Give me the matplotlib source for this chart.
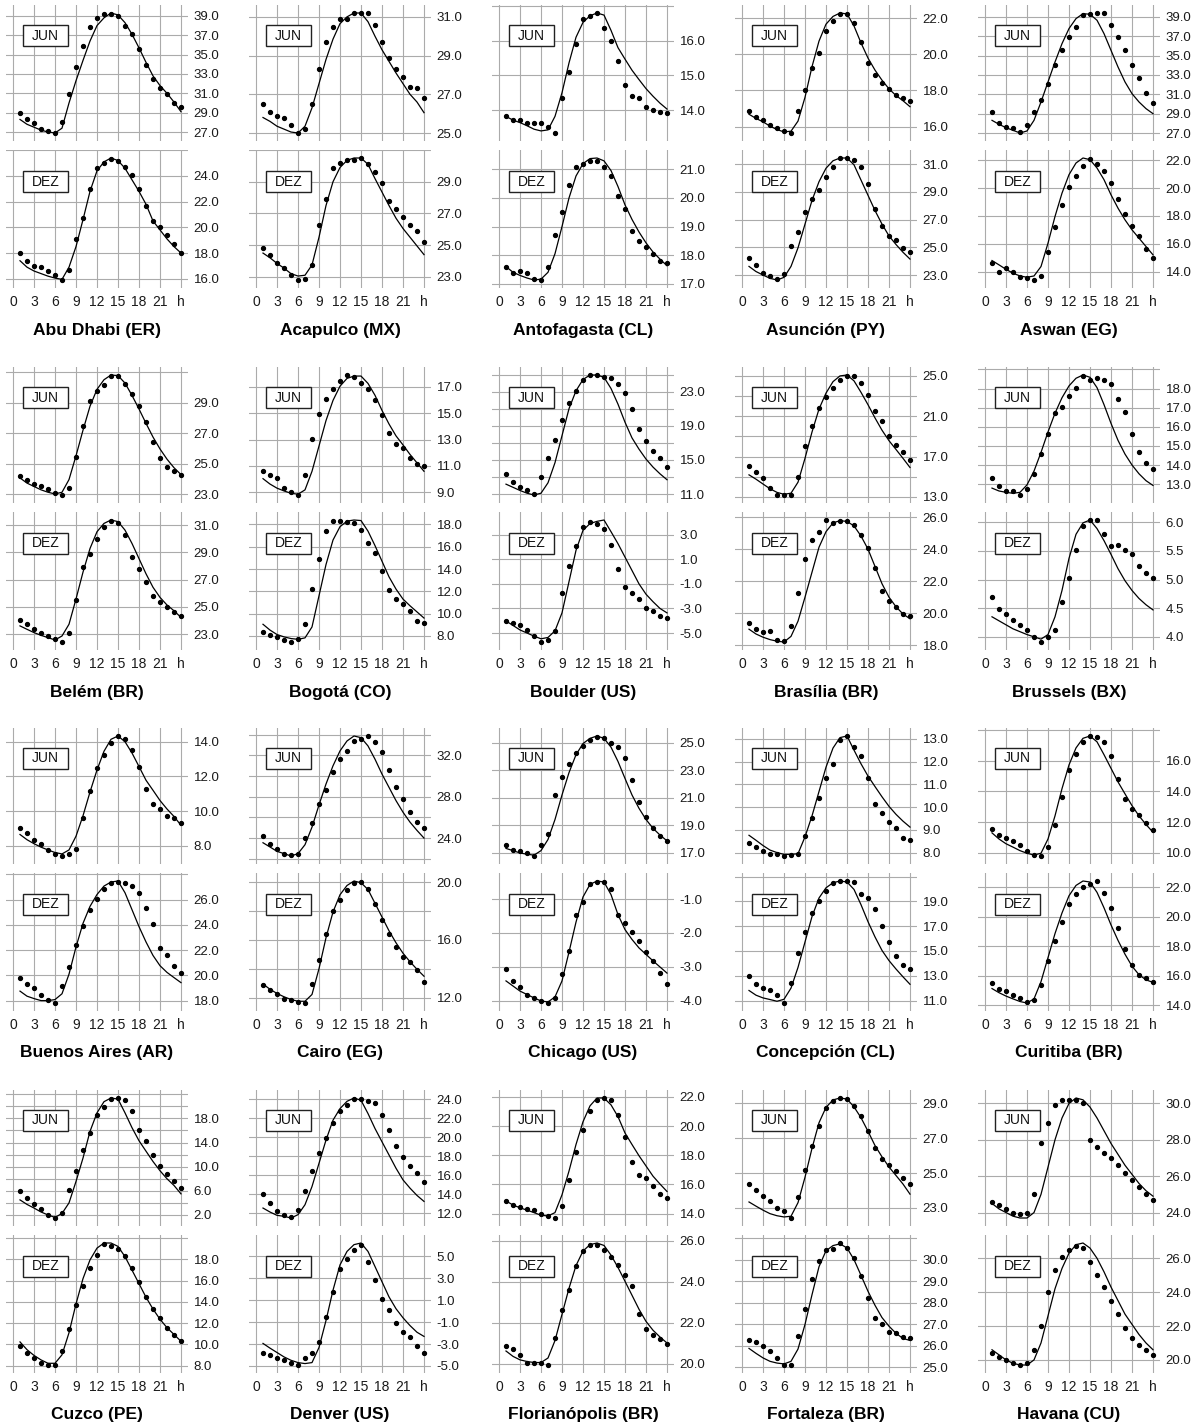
import matplotlib
matplotlib.use("Agg")
import matplotlib.pyplot as plt
from matplotlib.patches import Rectangle

# --- hours and axis labels ------------------------------------------

hours = list(range(1, 25))
x_ticks = [0, 3, 6, 9, 12, 15, 18, 21, 24]
x_labels = ["0", "3", "6", "9", "12", "15", "18", "21", "h"]

# --- observed (dots) and fitted (line) hourly temperatures -----------

abu_jun_obs = [29.0, 28.3, 27.9, 27.3, 27.1, 26.9, 28.0, 30.9, 33.7, 35.9, 37.9, 38.8, 39.2, 39.2, 39.0, 38.0, 37.1, 35.6, 33.9, 32.5, 31.6, 30.9, 30.0, 29.6]
abu_jun_fit = [28.3, 27.8, 27.5, 27.2, 27.0, 26.9, 27.4, 30.0, 32.3, 34.4, 36.4, 38.0, 38.8, 39.3, 39.1, 38.3, 37.1, 35.7, 34.2, 32.8, 31.8, 31.0, 30.1, 29.1]
abu_dez_obs = [18.0, 17.4, 17.0, 16.9, 16.6, 16.3, 15.9, 16.7, 19.1, 20.7, 23.0, 24.6, 25.0, 25.3, 25.2, 24.7, 24.1, 23.0, 21.7, 20.5, 20.0, 19.4, 18.7, 18.0]
abu_dez_fit = [17.4, 16.9, 16.6, 16.4, 16.2, 16.05, 15.95, 16.9, 18.5, 20.6, 22.8, 24.4, 25.1, 25.4, 25.2, 24.6, 23.7, 22.8, 21.8, 20.5, 19.8, 19.1, 18.5, 18.0]

aca_jun_obs = [26.5, 26.1, 25.9, 25.8, 25.4, 25.0, 25.2, 26.5, 28.3, 29.7, 30.5, 30.9, 30.9, 31.2, 31.2, 31.2, 30.6, 29.7, 28.9, 28.3, 27.9, 27.4, 27.35, 26.8]
aca_jun_fit = [25.8, 25.6, 25.35, 25.2, 25.05, 25.0, 25.35, 26.3, 27.55, 28.8, 29.85, 30.65, 31.0, 31.2, 31.2, 30.75, 30.0, 29.3, 28.7, 28.1, 27.55, 27.0, 26.6, 26.05]
aca_dez_obs = [24.85, 24.4, 23.9, 23.55, 23.1, 22.8, 22.85, 23.75, 26.3, 27.9, 29.9, 30.2, 30.4, 30.35, 30.5, 30.1, 29.6, 28.95, 27.8, 27.25, 26.8, 26.3, 25.9, 25.2]
aca_dez_fit = [24.5, 24.2, 23.85, 23.55, 23.2, 23.05, 23.1, 23.75, 25.5, 27.5, 29.0, 29.9, 30.35, 30.5, 30.5, 30.1, 29.2, 28.35, 27.5, 26.7, 26.05, 25.5, 24.95, 24.4]

ant_jun_obs = [13.82, 13.71, 13.71, 13.64, 13.64, 13.64, 13.5, 13.34, 14.34, 15.1, 15.9, 16.62, 16.7, 16.8, 16.37, 16.0, 15.43, 14.72, 14.42, 14.34, 14.08, 14.0, 13.95, 13.93]
ant_jun_fit = [13.82, 13.71, 13.64, 13.55, 13.45, 13.4, 13.43, 13.82, 14.5, 15.36, 16.1, 16.53, 16.72, 16.8, 16.74, 16.3, 15.8, 15.47, 15.15, 14.88, 14.62, 14.4, 14.2, 14.03]
ant_dez_obs = [17.6, 17.39, 17.46, 17.39, 17.16, 17.13, 17.58, 18.72, 19.5, 20.46, 21.09, 21.2, 21.28, 21.3, 21.09, 20.77, 20.08, 19.63, 18.84, 18.5, 18.27, 18.05, 17.8, 17.71]
ant_dez_fit = [17.6, 17.4, 17.29, 17.2, 17.13, 17.16, 17.4, 18.05, 19.0, 20.0, 20.77, 21.2, 21.38, 21.4, 21.3, 20.96, 20.4, 19.76, 19.25, 18.81, 18.43, 18.11, 17.86, 17.63]

asu_jun_obs = [16.87, 16.53, 16.34, 16.11, 15.92, 15.74, 15.64, 16.87, 18.0, 19.23, 20.08, 21.3, 21.87, 22.25, 22.25, 21.77, 20.68, 19.5, 18.85, 18.42, 18.1, 17.77, 17.58, 17.43]
asu_jun_fit = [16.68, 16.45, 16.26, 16.02, 15.83, 15.7, 15.74, 16.3, 17.62, 19.32, 20.74, 21.68, 22.11, 22.3, 22.25, 21.58, 20.64, 19.8, 19.13, 18.57, 18.09, 17.72, 17.43, 17.1]
asu_dez_obs = [24.23, 23.74, 23.18, 22.93, 22.69, 23.08, 25.08, 26.11, 27.53, 28.51, 29.12, 30.1, 30.76, 31.44, 31.44, 31.32, 30.76, 29.53, 27.77, 26.5, 25.82, 25.52, 24.96, 24.64]
asu_dez_fit = [23.62, 23.25, 23.0, 22.76, 22.64, 22.83, 23.62, 24.96, 26.67, 28.38, 29.73, 30.7, 31.24, 31.44, 31.44, 30.95, 29.85, 28.75, 27.65, 26.67, 25.82, 25.2, 24.64, 24.15]

asw_jun_obs = [29.17, 28.03, 27.62, 27.52, 27.1, 27.79, 29.17, 30.38, 32.1, 34.0, 35.55, 36.93, 37.97, 39.17, 39.34, 39.41, 39.41, 38.14, 36.93, 35.62, 34.0, 32.72, 31.14, 30.1]
asw_jun_fit = [28.31, 27.9, 27.55, 27.28, 27.0, 27.21, 28.31, 30.21, 32.28, 34.34, 36.24, 37.8, 38.83, 39.34, 39.28, 38.66, 37.28, 35.55, 33.83, 32.28, 31.07, 30.21, 29.52, 29.0]
asw_dez_obs = [14.64, 14.0, 14.24, 14.0, 13.59, 13.51, 13.39, 13.68, 15.44, 17.19, 18.8, 20.08, 20.89, 21.62, 22.1, 21.76, 21.2, 20.37, 19.21, 18.15, 17.29, 16.57, 15.61, 14.96]
asw_dez_fit = [14.79, 14.48, 14.16, 13.88, 13.68, 13.59, 13.68, 14.36, 16.04, 17.96, 19.64, 20.97, 21.81, 22.17, 22.05, 21.45, 20.61, 19.52, 18.56, 17.72, 17.0, 16.4, 15.8, 15.2]

bel_jun_obs = [24.19, 23.97, 23.68, 23.52, 23.34, 23.07, 22.96, 23.41, 25.42, 27.48, 29.11, 29.78, 30.16, 30.79, 30.74, 30.23, 29.56, 28.78, 27.77, 26.43, 25.38, 24.79, 24.53, 24.3]
bel_jun_fit = [24.08, 23.74, 23.52, 23.3, 23.14, 23.03, 23.14, 23.97, 25.53, 27.21, 28.78, 29.89, 30.52, 30.83, 30.79, 30.3, 29.49, 28.6, 27.66, 26.76, 25.98, 25.31, 24.75, 24.3]
bel_dez_obs = [24.05, 23.73, 23.41, 23.07, 22.87, 22.67, 22.43, 23.07, 25.53, 27.92, 28.91, 30.01, 30.88, 31.3, 31.12, 30.26, 28.66, 27.75, 26.86, 25.83, 25.38, 24.97, 24.65, 24.3]
bel_dez_fit = [23.61, 23.36, 23.12, 22.92, 22.75, 22.58, 22.87, 23.73, 25.58, 27.55, 29.28, 30.51, 31.12, 31.37, 31.25, 30.63, 29.65, 28.54, 27.43, 26.44, 25.7, 25.14, 24.72, 24.23]

bog_jun_obs = [10.59, 10.28, 10.08, 9.31, 9.0, 8.79, 10.28, 13.03, 14.95, 16.1, 16.87, 17.46, 17.9, 17.72, 17.31, 16.87, 16.03, 14.9, 13.46, 12.69, 12.38, 11.62, 11.15, 10.97]
bog_jun_fit = [10.03, 9.62, 9.31, 9.1, 8.92, 8.85, 9.18, 10.59, 12.51, 14.44, 15.97, 17.05, 17.64, 17.82, 17.82, 17.26, 16.36, 15.21, 14.18, 13.28, 12.59, 11.87, 11.23, 10.59]
bog_dez_obs = [8.31, 8.12, 7.91, 7.6, 7.45, 7.76, 9.04, 12.19, 14.94, 17.39, 18.31, 18.31, 18.21, 18.09, 17.54, 16.38, 15.4, 13.81, 12.1, 11.27, 10.87, 10.26, 9.35, 9.13]
bog_dez_fit = [9.04, 8.52, 8.12, 7.91, 7.76, 7.69, 7.82, 8.8, 11.6, 14.4, 16.6, 17.8, 18.3, 18.4, 18.35, 17.4, 16.1, 14.7, 13.3, 12.2, 11.3, 10.7, 10.15, 9.6]

bou_jun_obs = [13.37, 12.47, 11.79, 11.42, 11.0, 13.0, 15.21, 17.32, 19.68, 21.63, 23.1, 24.42, 24.95, 24.95, 24.68, 24.58, 23.89, 22.84, 21.0, 18.63, 17.21, 16.0, 15.21, 14.16]
bou_jun_fit = [12.16, 11.79, 11.42, 11.1, 10.89, 11.1, 12.32, 14.68, 17.84, 21.0, 23.1, 24.42, 24.95, 24.95, 24.68, 23.37, 21.53, 19.42, 17.58, 16.26, 15.1, 14.16, 13.37, 12.68]
bou_dez_obs = [-4.02, -4.16, -4.38, -4.75, -5.25, -5.73, -5.55, -4.82, -1.73, 0.45, 2.09, 3.62, 4.02, 3.91, 3.47, 2.16, 0.2, -1.25, -1.73, -2.27, -2.93, -3.18, -3.65, -3.8]
bou_dez_fit = [-4.02, -4.38, -4.75, -5.0, -5.25, -5.47, -5.36, -4.82, -3.36, -0.82, 1.73, 3.36, 3.91, 4.09, 4.2, 3.25, 2.27, 1.18, 0.09, -1.0, -1.84, -2.45, -3.0, -3.36]

bra_jun_obs = [16.09, 15.47, 14.89, 13.91, 13.18, 13.18, 13.18, 15.0, 18.04, 20.06, 21.77, 22.86, 23.77, 24.57, 25.0, 25.0, 24.34, 23.09, 21.49, 20.48, 19.02, 18.11, 17.42, 16.64]
bra_jun_fit = [15.18, 14.75, 14.27, 13.8, 13.44, 13.25, 13.36, 14.45, 16.82, 19.43, 21.71, 23.29, 24.43, 25.0, 25.09, 24.51, 23.37, 22.14, 20.83, 19.61, 18.57, 17.7, 16.82, 15.91]
bra_dez_obs = [19.4, 19.0, 18.85, 18.9, 18.35, 18.25, 19.2, 21.24, 23.4, 24.55, 25.09, 25.82, 25.64, 25.73, 25.73, 25.51, 24.87, 24.09, 22.85, 21.41, 20.76, 20.4, 19.95, 19.8]
bra_dez_fit = [19.0, 18.7, 18.5, 18.35, 18.25, 18.2, 18.55, 19.5, 21.0, 22.56, 24.12, 25.09, 25.64, 25.78, 25.73, 25.45, 24.82, 24.0, 22.92, 21.84, 21.0, 20.4, 19.95, 19.65]

brx_jun_obs = [13.32, 12.88, 12.64, 12.64, 12.43, 12.75, 13.54, 14.57, 15.61, 16.71, 17.04, 17.61, 18.05, 18.68, 18.46, 18.54, 18.46, 18.23, 17.46, 16.75, 15.61, 14.66, 14.13, 13.77]
brx_jun_fit = [12.79, 12.64, 12.57, 12.52, 12.57, 12.96, 13.68, 14.66, 15.73, 16.71, 17.52, 18.14, 18.54, 18.71, 18.59, 18.05, 17.16, 16.18, 15.29, 14.57, 14.0, 13.54, 13.18, 12.93]
brx_dez_obs = [4.7, 4.49, 4.4, 4.3, 4.21, 4.12, 4.0, 3.91, 4.0, 4.12, 4.61, 5.03, 5.52, 5.93, 6.04, 6.04, 5.8, 5.59, 5.61, 5.52, 5.44, 5.23, 5.12, 5.03]
brx_dez_fit = [4.35, 4.28, 4.21, 4.14, 4.09, 4.04, 4.0, 3.96, 4.04, 4.35, 4.81, 5.37, 5.79, 5.99, 6.04, 5.89, 5.68, 5.44, 5.19, 4.98, 4.81, 4.67, 4.56, 4.47]

bue_jun_obs = [9.04, 8.71, 8.31, 8.12, 7.73, 7.53, 7.41, 7.53, 7.8, 9.63, 11.14, 12.51, 13.25, 13.94, 14.33, 14.14, 13.55, 12.57, 11.25, 10.41, 10.12, 9.73, 9.63, 9.29]
bue_jun_fit = [8.65, 8.35, 8.12, 7.92, 7.76, 7.61, 7.53, 7.76, 8.55, 9.73, 11.1, 12.37, 13.45, 14.14, 14.33, 14.0, 13.35, 12.57, 11.78, 11.2, 10.61, 10.12, 9.69, 9.18]
bue_dez_obs = [19.78, 19.3, 19.03, 18.49, 18.09, 17.82, 19.16, 20.64, 22.38, 23.91, 25.2, 26.05, 26.8, 27.29, 27.39, 27.34, 27.07, 26.54, 25.33, 24.07, 22.19, 21.58, 20.77, 20.16]
bue_dez_fit = [18.76, 18.36, 18.17, 18.01, 18.01, 18.09, 18.55, 20.1, 22.25, 24.12, 25.46, 26.4, 27.07, 27.39, 27.47, 26.54, 25.2, 23.86, 22.65, 21.58, 20.77, 20.24, 19.83, 19.43]

cai_jun_obs = [24.19, 23.46, 22.91, 22.5, 22.34, 22.5, 24.0, 25.47, 27.3, 28.67, 30.4, 31.62, 32.42, 33.38, 33.6, 33.86, 33.28, 32.32, 30.59, 28.9, 27.78, 26.5, 25.6, 24.96]
cai_jun_fit = [23.55, 23.14, 22.72, 22.5, 22.27, 22.5, 23.36, 25.06, 27.2, 29.22, 30.98, 32.42, 33.38, 33.86, 33.7, 32.9, 31.62, 30.18, 28.9, 27.62, 26.5, 25.54, 24.74, 24.0]
cai_dez_obs = [12.87, 12.54, 12.23, 11.92, 11.83, 11.69, 11.64, 12.95, 14.61, 16.39, 18.0, 18.76, 19.48, 19.95, 20.0, 19.52, 18.48, 17.39, 16.44, 15.49, 14.85, 14.44, 13.9, 13.11]
cai_dez_fit = [12.95, 12.59, 12.3, 12.07, 11.88, 11.76, 11.76, 12.23, 14.01, 16.15, 17.93, 19.12, 19.76, 20.07, 19.95, 19.48, 18.53, 17.58, 16.63, 15.8, 15.08, 14.49, 13.97, 13.49]

chi_jun_obs = [17.56, 17.23, 17.17, 17.0, 16.78, 17.56, 18.4, 21.21, 22.51, 23.48, 24.29, 24.77, 25.19, 25.42, 25.32, 25.0, 24.68, 23.9, 22.28, 20.73, 19.6, 18.79, 18.2, 17.88]
chi_jun_fit = [17.33, 17.17, 17.0, 16.91, 16.84, 17.17, 17.98, 19.43, 21.21, 22.83, 24.13, 24.94, 25.32, 25.49, 25.32, 24.68, 23.64, 22.41, 21.21, 20.24, 19.43, 18.79, 18.3, 17.88]
chi_dez_obs = [-3.07, -3.41, -3.59, -3.81, -3.91, -4.0, -4.06, -3.91, -3.22, -2.53, -1.46, -1.09, -0.57, -0.5, -0.5, -0.72, -1.46, -1.71, -1.97, -2.24, -2.56, -2.82, -3.18, -3.51]
chi_dez_fit = [-3.41, -3.56, -3.71, -3.81, -3.91, -4.0, -4.03, -3.88, -3.41, -2.56, -1.68, -0.94, -0.57, -0.47, -0.5, -0.87, -1.46, -1.9, -2.19, -2.44, -2.63, -2.82, -3.0, -3.18]

con_jun_obs = [8.41, 8.23, 8.05, 7.92, 7.92, 7.85, 7.89, 7.92, 8.72, 9.53, 10.4, 11.26, 11.9, 12.94, 13.12, 12.63, 12.24, 11.26, 10.14, 9.73, 9.33, 9.07, 8.66, 8.57]
con_jun_fit = [8.76, 8.54, 8.31, 8.11, 8.0, 7.92, 7.92, 7.95, 8.69, 9.61, 10.68, 11.75, 12.59, 13.05, 13.12, 12.5, 11.9, 11.36, 10.9, 10.45, 10.03, 9.68, 9.38, 9.12]
con_dez_obs = [12.99, 12.36, 12.03, 11.81, 11.43, 10.8, 12.44, 14.82, 16.54, 18.04, 19.0, 19.82, 20.45, 20.64, 20.64, 20.56, 19.63, 19.27, 18.37, 17.0, 15.72, 14.63, 13.89, 13.54]
con_dez_fit = [11.81, 11.43, 11.21, 11.08, 10.94, 11.1, 12.0, 13.67, 15.72, 17.77, 19.27, 20.09, 20.5, 20.64, 20.56, 19.96, 18.73, 17.36, 16.13, 15.04, 14.22, 13.54, 12.91, 12.31]

cur_jun_obs = [11.56, 11.18, 10.96, 10.73, 10.51, 10.13, 9.84, 9.78, 10.36, 11.78, 13.62, 15.4, 16.44, 17.24, 17.62, 17.56, 17.24, 16.29, 14.84, 13.51, 12.84, 12.44, 11.91, 11.47]
cur_jun_fit = [11.29, 10.89, 10.58, 10.36, 10.13, 9.96, 9.84, 9.96, 10.89, 12.4, 14.18, 15.73, 16.84, 17.47, 17.62, 17.24, 16.4, 15.51, 14.62, 13.84, 13.07, 12.4, 11.84, 11.33]
cur_dez_obs = [15.47, 15.08, 14.94, 14.66, 14.47, 14.19, 14.31, 15.36, 16.99, 18.34, 19.67, 20.83, 21.53, 22.0, 22.23, 22.4, 21.6, 20.6, 19.2, 17.8, 16.71, 16.01, 15.87, 15.59]
cur_dez_fit = [15.12, 14.84, 14.61, 14.42, 14.24, 14.14, 14.42, 15.59, 17.22, 18.85, 20.25, 21.42, 22.12, 22.42, 22.35, 21.65, 20.6, 19.44, 18.39, 17.45, 16.64, 16.06, 15.71, 15.54]

cuz_jun_obs = [6.0, 4.85, 3.85, 3.0, 2.0, 1.5, 2.35, 6.13, 9.24, 12.69, 15.66, 18.5, 19.85, 21.2, 21.38, 21.08, 19.23, 16.15, 14.18, 12.0, 10.17, 8.76, 7.64, 6.44]
cuz_jun_fit = [4.5, 3.75, 3.15, 2.5, 2.0, 1.6, 2.25, 4.0, 7.55, 11.43, 15.85, 18.92, 20.77, 21.38, 21.2, 18.92, 16.46, 14.3, 12.57, 10.86, 9.33, 8.0, 6.89, 5.5]
cuz_dez_obs = [9.82, 9.18, 8.7, 8.29, 8.06, 8.06, 9.4, 11.41, 13.73, 15.45, 17.14, 18.41, 19.46, 19.21, 18.96, 18.32, 17.14, 15.87, 14.43, 13.32, 12.52, 11.57, 10.87, 10.36]
cuz_dez_fit = [10.23, 9.5, 8.96, 8.54, 8.22, 8.22, 9.02, 11.09, 13.8, 16.18, 17.94, 19.05, 19.53, 19.53, 19.21, 18.25, 16.98, 15.71, 14.43, 13.32, 12.36, 11.57, 10.93, 10.29]

den_jun_obs = [14.0, 13.06, 12.18, 11.83, 11.55, 12.36, 14.35, 16.45, 18.3, 19.94, 21.55, 22.74, 23.44, 24.0, 24.0, 23.79, 23.65, 22.39, 20.75, 19.1, 17.95, 17.0, 16.2, 15.26]
den_jun_fit = [12.53, 12.11, 11.76, 11.66, 11.48, 11.83, 12.88, 14.8, 17.25, 19.7, 21.8, 23.02, 23.79, 24.14, 23.9, 22.5, 20.92, 19.52, 18.13, 16.73, 15.5, 14.63, 13.86, 13.23]
den_dez_obs = [-3.77, -3.98, -4.23, -4.48, -4.69, -4.91, -4.23, -3.77, -2.85, -0.54, 1.77, 3.83, 4.75, 5.62, 6.08, 4.54, 2.85, 1.15, 0.14, -1.09, -1.92, -2.38, -3.15, -3.77]
den_dez_fit = [-2.94, -3.37, -3.77, -4.17, -4.48, -4.69, -4.78, -4.69, -3.31, -0.85, 1.92, 4.23, 5.46, 6.08, 6.23, 5.46, 4.08, 2.69, 1.31, 0.23, -0.6, -1.31, -1.92, -2.3]

flo_jun_obs = [14.87, 14.59, 14.47, 14.35, 14.24, 14.0, 13.84, 13.7, 14.54, 16.34, 18.2, 19.76, 21.07, 21.81, 21.93, 21.81, 20.76, 19.25, 17.57, 16.64, 16.41, 15.87, 15.33, 15.1]
flo_jun_fit = [14.87, 14.59, 14.4, 14.24, 14.07, 13.89, 13.84, 14.07, 15.29, 16.92, 18.74, 20.3, 21.39, 21.93, 21.93, 21.46, 20.65, 19.53, 18.74, 17.97, 17.27, 16.57, 16.03, 15.52]
flo_dez_obs = [20.85, 20.71, 20.46, 20.07, 20.03, 20.07, 19.95, 21.25, 22.61, 23.59, 24.75, 25.49, 25.8, 25.8, 25.54, 25.2, 24.81, 24.31, 23.8, 22.44, 21.69, 21.42, 21.19, 20.97]
flo_dez_fit = [20.63, 20.37, 20.2, 20.12, 20.07, 20.07, 20.29, 21.14, 22.41, 23.68, 24.78, 25.49, 25.8, 25.88, 25.76, 25.29, 24.69, 24.02, 23.34, 22.66, 22.07, 21.64, 21.31, 21.02]

for_jun_obs = [24.37, 24.02, 23.69, 23.39, 23.0, 22.81, 22.42, 23.65, 25.15, 26.58, 27.69, 28.73, 29.16, 29.31, 29.25, 28.86, 28.28, 27.44, 26.46, 25.8, 25.48, 25.09, 24.7, 24.37]
for_jun_fit = [23.34, 23.1, 22.87, 22.67, 22.55, 22.48, 22.52, 23.3, 24.76, 26.42, 27.89, 28.77, 29.2, 29.31, 29.25, 28.8, 28.18, 27.4, 26.58, 25.93, 25.35, 24.86, 24.37, 23.79]
for_dez_obs = [26.25, 26.17, 25.98, 25.77, 25.44, 25.11, 25.11, 26.47, 27.72, 29.1, 29.92, 30.44, 30.49, 30.77, 30.54, 30.08, 29.23, 28.21, 27.28, 26.99, 26.63, 26.58, 26.42, 26.37]
for_dez_fit = [25.88, 25.65, 25.44, 25.28, 25.2, 25.16, 25.28, 25.85, 26.99, 28.37, 29.67, 30.41, 30.65, 30.73, 30.54, 30.0, 29.27, 28.53, 27.88, 27.31, 26.91, 26.58, 26.34, 26.25]

hav_jun_obs = [24.6, 24.4, 24.2, 24.0, 23.9, 24.0, 25.0, 27.8, 28.9, 29.9, 30.2, 30.2, 30.2, 30.0, 28.0, 27.6, 27.3, 27.0, 26.6, 26.2, 25.8, 25.4, 25.0, 24.7]
hav_jun_fit = [24.5, 24.2, 24.0, 23.8, 23.7, 23.7, 24.0, 25.0, 26.5, 28.0, 29.2, 30.0, 30.3, 30.2, 29.8, 29.2, 28.5, 27.8, 27.2, 26.6, 26.1, 25.6, 25.2, 24.9]
hav_dez_obs = [20.4, 20.2, 20.0, 19.8, 19.7, 19.8, 20.6, 22.0, 24.0, 25.3, 26.1, 26.5, 26.7, 26.6, 25.8, 25.0, 24.3, 23.5, 22.7, 21.9, 21.3, 20.9, 20.6, 20.3]
hav_dez_fit = [20.6, 20.3, 20.0, 19.8, 19.7, 19.7, 20.0, 21.0, 22.6, 24.2, 25.4, 26.3, 26.8, 26.9, 26.6, 26.0, 25.2, 24.3, 23.5, 22.7, 22.1, 21.5, 21.0, 20.6]

# --- labelled y ticks per panel --------------------------------------

cities = [
    ("Abu Dhabi (ER)", abu_jun_obs, abu_jun_fit, [27, 29, 31, 33, 35, 37, 39], abu_dez_obs, abu_dez_fit, [16, 18, 20, 22, 24]),
    ("Acapulco (MX)", aca_jun_obs, aca_jun_fit, [25, 27, 29, 31], aca_dez_obs, aca_dez_fit, [23, 25, 27, 29]),
    ("Antofagasta (CL)", ant_jun_obs, ant_jun_fit, [14, 15, 16], ant_dez_obs, ant_dez_fit, [17, 18, 19, 20, 21]),
    ("Asunción (PY)", asu_jun_obs, asu_jun_fit, [16, 18, 20, 22], asu_dez_obs, asu_dez_fit, [23, 25, 27, 29, 31]),
    ("Aswan (EG)", asw_jun_obs, asw_jun_fit, [27, 29, 31, 33, 35, 37, 39], asw_dez_obs, asw_dez_fit, [14, 16, 18, 20, 22]),
    ("Belém (BR)", bel_jun_obs, bel_jun_fit, [23, 25, 27, 29], bel_dez_obs, bel_dez_fit, [23, 25, 27, 29, 31]),
    ("Bogotá (CO)", bog_jun_obs, bog_jun_fit, [9, 11, 13, 15, 17], bog_dez_obs, bog_dez_fit, [8, 10, 12, 14, 16, 18]),
    ("Boulder (US)", bou_jun_obs, bou_jun_fit, [11, 15, 19, 23], bou_dez_obs, bou_dez_fit, [-5, -3, -1, 1, 3]),
    ("Brasília (BR)", bra_jun_obs, bra_jun_fit, [13, 17, 21, 25], bra_dez_obs, bra_dez_fit, [18, 20, 22, 24, 26]),
    ("Brussels (BX)", brx_jun_obs, brx_jun_fit, [13, 14, 15, 16, 17, 18], brx_dez_obs, brx_dez_fit, [4.0, 4.5, 5.0, 5.5, 6.0]),
    ("Buenos Aires (AR)", bue_jun_obs, bue_jun_fit, [8, 10, 12, 14], bue_dez_obs, bue_dez_fit, [18, 20, 22, 24, 26]),
    ("Cairo (EG)", cai_jun_obs, cai_jun_fit, [24, 28, 32], cai_dez_obs, cai_dez_fit, [12, 16, 20]),
    ("Chicago (US)", chi_jun_obs, chi_jun_fit, [17, 19, 21, 23, 25], chi_dez_obs, chi_dez_fit, [-4, -3, -2, -1]),
    ("Concepción (CL)", con_jun_obs, con_jun_fit, [8, 9, 10, 11, 12, 13], con_dez_obs, con_dez_fit, [11, 13, 15, 17, 19]),
    ("Curitiba (BR)", cur_jun_obs, cur_jun_fit, [10, 12, 14, 16], cur_dez_obs, cur_dez_fit, [14, 16, 18, 20, 22]),
    ("Cuzco (PE)", cuz_jun_obs, cuz_jun_fit, [2, 6, 10, 14, 18], cuz_dez_obs, cuz_dez_fit, [8, 10, 12, 14, 16, 18]),
    ("Denver (US)", den_jun_obs, den_jun_fit, [12, 14, 16, 18, 20, 22, 24], den_dez_obs, den_dez_fit, [-5, -3, -1, 1, 3, 5]),
    ("Florianópolis (BR)", flo_jun_obs, flo_jun_fit, [14, 16, 18, 20, 22], flo_dez_obs, flo_dez_fit, [20, 22, 24, 26]),
    ("Fortaleza (BR)", for_jun_obs, for_jun_fit, [23, 25, 27, 29], for_dez_obs, for_dez_fit, [25, 26, 27, 28, 29, 30]),
    ("Havana (CU)", hav_jun_obs, hav_jun_fit, [24, 26, 28, 30], hav_dez_obs, hav_dez_fit, [20, 22, 24, 26]),
]

# --- figure in pixel units -------------------------------------------

W, H = 1204, 1427
fig = plt.figure(figsize=(W / 100, H / 100), dpi=100)
fig.patch.set_facecolor("white")

tick_font = ["Liberation Sans Narrow", "Liberation Sans", "DejaVu Sans"]
grid_col = "#ababab"


def px_axes(left, top, width, height):
    return fig.add_axes([left / W, 1 - (top + height) / H, width / W, height / H])


def draw_panel(ax, obs, fit, ticks, month, ax_h, band, box_top, show_x):
    lo = min(obs + fit)
    hi = max(obs + fit)
    pad = (hi - lo) * 8.0 / band
    ax.set_xlim(-1, 25)
    ax.set_ylim(lo - pad, hi + pad)

    step = ticks[1] - ticks[0]
    gstep = step / 2 if step >= 4 else step
    g = ticks[0]
    while g - gstep >= lo - pad:
        g -= gstep
    while g <= hi + pad:
        ax.axhline(g, color=grid_col, lw=0.8, zorder=0)
        g += gstep
    for xv in x_ticks:
        ax.axvline(xv, color=grid_col, lw=0.8, zorder=0)

    ax.plot(hours, fit, "-", color="black", lw=0.9, zorder=2)
    ax.plot(hours, obs, "o", color="black", ms=2.8, zorder=3)

    ax.yaxis.tick_right()
    ax.set_yticks(ticks, labels=["%.1f" % t for t in ticks])
    ax.tick_params(axis="y", length=0, pad=4, labelsize=9.5, labelcolor="#1a1a1a")
    ax.set_xticks(x_ticks, labels=x_labels if show_x else [""] * len(x_ticks))
    ax.tick_params(axis="x", length=0, pad=5, labelsize=10, labelcolor="#1a1a1a")
    for lab in ax.get_xticklabels() + ax.get_yticklabels():
        lab.set_family(tick_font)
    for s in ax.spines.values():
        s.set_visible(False)

    # month box (pixel sizes converted to axes fractions)
    bx, bw, bh = 17.0 / 182, 45.0 / 182, 21.0 / ax_h
    by = 1 - (box_top + 21.0) / ax_h
    ax.add_patch(Rectangle((bx, by), bw, bh, transform=ax.transAxes,
                           facecolor="white", edgecolor="#222222", lw=1.0, zorder=4))
    ax.text(bx + bw / 2, by + bh / 2, month, transform=ax.transAxes,
            ha="center", va="center", fontsize=10, family=tick_font,
            color="#111111", zorder=5)


for i, (name, jo, jf, jt, do, df, dt) in enumerate(cities):
    r, c = divmod(i, 5)
    x0 = 13 + 243 * c
    top = round(361.7 * r)

    ax1 = px_axes(x0 - 7, top + 5, 182, 136)
    draw_panel(ax1, jo, jf, jt, "JUN", 136, 120, 20, False)

    ax2 = px_axes(x0 - 7, top + 150, 182, 138)
    draw_panel(ax2, do, df, dt, "DEZ", 138, 122, 21, True)

    fig.text((x0 + 84) / W, 1 - (top + 330) / H, name, ha="center", va="center",
             fontsize=12.5, fontweight="bold", family=["Liberation Sans", "DejaVu Sans"])

fig.savefig("out.png", dpi=100, facecolor="white")
